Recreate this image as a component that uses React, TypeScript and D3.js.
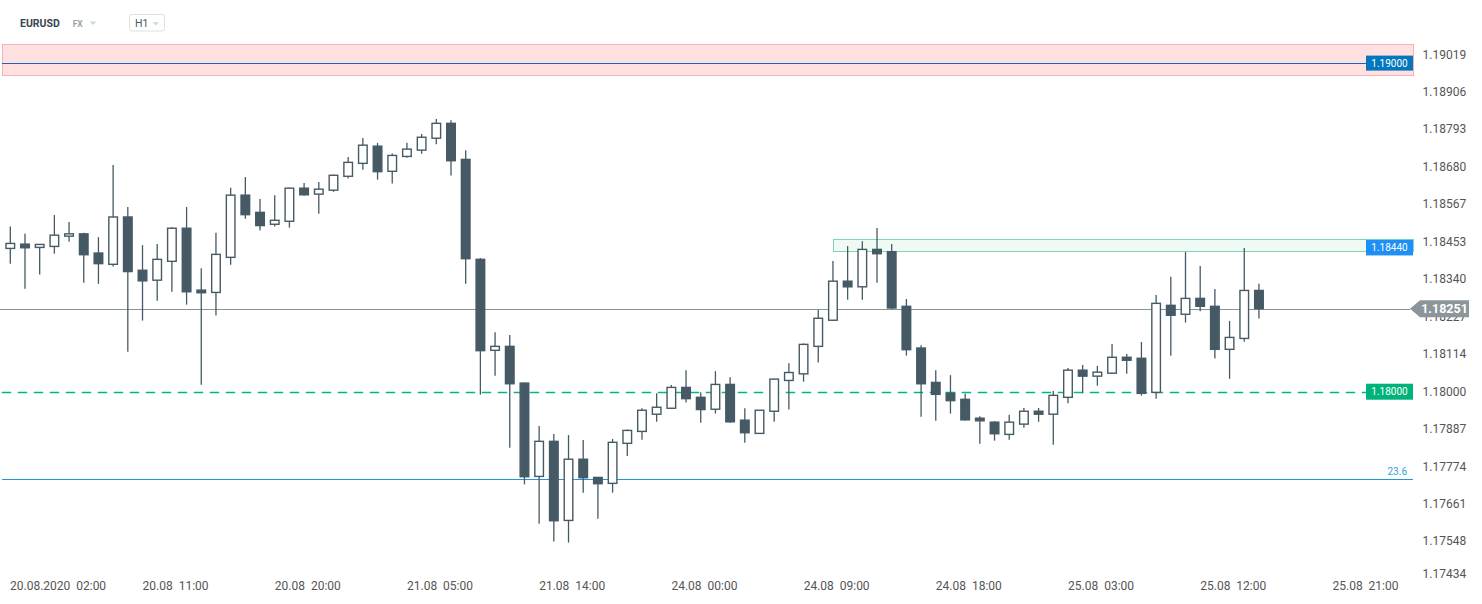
import React from "react";
import * as d3 from "d3";

const opens = [1.18433,1.18446,1.18436,1.18439,1.18470,1.18477,1.18419,1.18385,1.18528,1.18367,1.18337,1.18394,1.18494,1.18307,1.18300,1.18406,1.18594,1.18542,1.18506,1.18515,1.18615,1.18597,1.18609,1.18651,1.18690,1.18742,1.18666,1.18711,1.18730,1.18766,1.18811,1.18702,1.18400,1.18125,1.18137,1.18026,1.17744,1.17850,1.17611,1.17796,1.17741,1.17723,1.17844,1.17880,1.17932,1.17950,1.18013,1.17983,1.17947,1.18022,1.17914,1.17874,1.17941,1.18034,1.18054,1.18137,1.18216,1.18334,1.18317,1.18430,1.18423,1.18258,1.18132,1.18028,1.17995,1.17977,1.17920,1.17908,1.17871,1.17902,1.17941,1.17932,1.17983,1.18065,1.18047,1.18056,1.18104,1.18101,1.17998,1.18261,1.18234,1.18282,1.18258,1.18128,1.18161,1.18306];
const highs = [1.18499,1.18477,1.18446,1.18534,1.18513,1.18480,1.18467,1.18685,1.18558,1.18443,1.18446,1.18497,1.18558,1.18373,1.18480,1.18616,1.18649,1.18582,1.18594,1.18617,1.18631,1.18634,1.18656,1.18709,1.18767,1.18752,1.18720,1.18752,1.18779,1.18824,1.18820,1.18730,1.18404,1.18180,1.18171,1.18028,1.17896,1.17872,1.17869,1.17854,1.17742,1.17857,1.17886,1.17950,1.17995,1.18020,1.18065,1.17998,1.18062,1.18044,1.17950,1.17944,1.18039,1.18086,1.18146,1.18247,1.18395,1.18440,1.18455,1.18495,1.18446,1.18280,1.18140,1.18065,1.18050,1.17994,1.17926,1.17911,1.17930,1.17951,1.17951,1.18002,1.18072,1.18081,1.18078,1.18144,1.18114,1.18150,1.18292,1.18347,1.18422,1.18380,1.18310,1.18214,1.18434,1.18326];
const lows = [1.18387,1.18311,1.18354,1.18417,1.18453,1.18329,1.18326,1.18378,1.18121,1.18215,1.18275,1.18302,1.18263,1.18021,1.18230,1.18384,1.18523,1.18487,1.18499,1.18496,1.18593,1.18538,1.18604,1.18644,1.18671,1.18641,1.18629,1.18707,1.18719,1.18748,1.18653,1.18326,1.17991,1.18048,1.17831,1.17720,1.17601,1.17547,1.17544,1.17695,1.17616,1.17695,1.17806,1.17855,1.17909,1.17948,1.17967,1.17906,1.17934,1.17906,1.17846,1.17874,1.17909,1.17946,1.18030,1.18088,1.18214,1.18278,1.18278,1.18329,1.18250,1.18109,1.17924,1.17912,1.17934,1.17913,1.17843,1.17852,1.17855,1.17891,1.17909,1.17840,1.17965,1.17995,1.18018,1.18054,1.18054,1.17988,1.17979,1.18109,1.18209,1.18243,1.18100,1.18039,1.18151,1.18221];
const closes = [1.18448,1.18435,1.18445,1.18473,1.18477,1.18414,1.18387,1.18528,1.18363,1.18335,1.18400,1.18494,1.18302,1.18299,1.18415,1.18594,1.18535,1.18502,1.18518,1.18615,1.18595,1.18612,1.18654,1.18693,1.18745,1.18665,1.18714,1.18733,1.18769,1.18811,1.18698,1.18402,1.18124,1.18137,1.18024,1.17743,1.17850,1.17610,1.17796,1.17740,1.17722,1.17847,1.17883,1.17944,1.17953,1.18013,1.17979,1.17946,1.18022,1.17909,1.17876,1.17944,1.18038,1.18058,1.18143,1.18222,1.18334,1.18317,1.18430,1.18417,1.18253,1.18127,1.18024,1.17992,1.17973,1.17915,1.17912,1.17873,1.17908,1.17941,1.17932,1.17989,1.18065,1.18047,1.18059,1.18104,1.18095,1.17995,1.18267,1.18231,1.18282,1.18258,1.18128,1.18164,1.18306,1.18251];

const xTickIndex = [2, 11, 20, 29, 38, 47, 56, 65, 74, 83, 92];
const xTickLabels = ["20.08.2020  02:00", "20.08  11:00", "20.08  20:00", "21.08  05:00", "21.08  14:00", "24.08  00:00", "24.08  09:00", "24.08  18:00", "25.08  03:00", "25.08  12:00", "25.08  21:00"];
const yTicks = [1.19019, 1.18906, 1.18793, 1.18680, 1.18567, 1.18453, 1.18340, 1.18227, 1.18114, 1.18000, 1.17887, 1.17774, 1.17661, 1.17548, 1.17434];

const redZone = [1.18957, 1.19051];
const redLine = 1.18993;
const redLabel = "1.19000";
const greenZone = [1.18424, 1.18461];
const greenZoneStart = 56;
const greenLabelLevel = 1.18436;
const greenLabel = "1.18440";
const supportLevel = 1.18000;
const supportLabel = "1.18000";
const fibLevel = 1.17736;
const fibLabel = "23.6";
const lastPrice = 1.18251;

const DARK = "#455a64";

export default function App() {
  const x = d3.scaleLinear().domain([0, 92]).range([10.3, 10.3 + 14.69 * 92]);
  const y = d3.scaleLinear().domain([1.17434, 1.19019]).range([579, 54.5]);
  const plotRight = 1413;
  const labelX = 1366;
  const labelW = 47;
  const bodyW = 8.6;
  const crisp = (v: number) => Math.round(v) + 0.5;

  const candles = opens.map((o, i) => {
    const c = closes[i];
    const bull = c >= o;
    const cx = x(i);
    const top = y(Math.max(o, c));
    const bot = y(Math.min(o, c));
    return (
      <g key={i}>
        <line x1={cx} x2={cx} y1={y(highs[i])} y2={y(lows[i])} stroke={DARK} strokeWidth={1.3} />
        <rect x={cx - bodyW / 2} y={top} width={bodyW} height={Math.max(bot - top, 1)}
          fill={bull ? "#ffffff" : DARK} stroke={DARK} strokeWidth={1.4} />
      </g>
    );
  });

  const font = "Roboto, 'Noto Sans', sans-serif";
  const lastY = y(lastPrice);
  const supY = crisp(y(supportLevel));
  const lastLineY = crisp(lastY);
  const fibY = crisp(y(fibLevel));
  const redY = crisp(y(redLine));

  return (
    <svg width={1482} height={604} style={{ position: "absolute", left: 0, top: 0, background: "#fff" }} fontFamily={font}>
      {/* header */}
      <text x={20} y={27.3} fontSize={10.5} fontWeight={700} fill="#37474f">EURUSD</text>
      <text x={72.7} y={26.8} fontSize={8.5} fontWeight={700} fill="#9aa5ab">FX</text>
      <path d="M89.5,21.5 L96.5,21.5 L93,25 Z" fill="#cfd8dc" />
      <rect x={129.5} y={14.5} width={35} height={16.5} rx={2.5} fill="#fff" stroke="#e0e0e0" />
      <text x={135} y={27.3} fontSize={10.5} fill="#455a64">H1</text>
      <path d="M152.5,22.3 L159,22.3 L155.7,25.5 Z" fill="#cfd8dc" />

      {/* red zone */}
      <rect x={2.5} y={crisp(y(redZone[1]))} width={plotRight - 2} height={Math.round(y(redZone[0]) - y(redZone[1]))} fill="#ffe1e1" stroke="#f7b3b3" strokeWidth={1} />
      <line x1={2} x2={labelX} y1={redY} y2={redY} stroke="#1565c0" strokeWidth={1} />
      <rect x={labelX} y={y(redLine) - 7.5} width={labelW} height={15} fill="#0277bd" />
      <text x={labelX + labelW / 2} y={y(redLine)} dy="0.35em" textAnchor="middle" fontSize={10} fill="#fff">{redLabel}</text>

      {/* green zone */}
      <rect x={crisp(x(greenZoneStart))} y={crisp(y(greenZone[1]))} width={plotRight - x(greenZoneStart)} height={Math.round(y(greenZone[0]) - y(greenZone[1]))} fill="#effaf5" stroke="#7dd6b4" strokeWidth={1} />

      {/* fib line */}
      <line x1={2} x2={plotRight} y1={fibY} y2={fibY} stroke="#2196e0" strokeWidth={1} />
      <text x={1407} y={y(fibLevel) - 8} dy="0.35em" textAnchor="end" fontSize={10} fill="#29a3e0">{fibLabel}</text>

      {/* support dashed */}
      <line x1={1.7} x2={labelX} y1={supY} y2={supY} stroke="#00b97c" strokeWidth={1.5} strokeDasharray="9.5,6.5" />

      {/* current price line */}
      <line x1={0} x2={1410} y1={lastLineY} y2={lastLineY} stroke="#8a9396" strokeWidth={1} />

      {/* candles */}
      {candles}

      {/* level labels */}
      <rect x={labelX} y={y(greenLabelLevel) - 7.5} width={labelW} height={15.5} fill="#1e8ff5" />
      <text x={labelX + labelW / 2} y={y(greenLabelLevel)} dy="0.35em" textAnchor="middle" fontSize={10} fill="#fff">{greenLabel}</text>
      <rect x={labelX} y={y(supportLevel) - 8} width={labelW} height={16} fill="#00b37a" />
      <text x={labelX + labelW / 2} y={y(supportLevel)} dy="0.35em" textAnchor="middle" fontSize={10} fill="#fff">{supportLabel}</text>

      {/* y axis labels */}
      {yTicks.map((t) => (
        <text key={t} x={1422.5} y={Math.min(y(t), 574)} dy="0.35em" fontSize={12} fill="#555">{t.toFixed(5)}</text>
      ))}

      {/* current price tag */}
      <path d={`M1410,${lastY} L1420,${lastY - 8.5} L1469,${lastY - 8.5} L1469,${lastY + 8.5} L1420,${lastY + 8.5} Z`} fill="#8c9599" />
      <text x={1444.5} y={lastY} dy="0.36em" textAnchor="middle" fontSize={12.5} fontWeight={700} fill="#fff">{lastPrice.toFixed(5)}</text>

      {/* x axis labels */}
      {xTickIndex.map((idx, k) => (
        k === 0 ? (
          <text key={k} x={10} y={586} dy="0.35em" fontSize={12} fill="#555" style={{ whiteSpace: "pre" }}>{xTickLabels[k]}</text>
        ) : (
          <text key={k} x={x(idx) + 3.7} y={586} dy="0.35em" textAnchor="middle" fontSize={12} fill="#555" style={{ whiteSpace: "pre" }}>{xTickLabels[k]}</text>
        )
      ))}
    </svg>
  );
}
